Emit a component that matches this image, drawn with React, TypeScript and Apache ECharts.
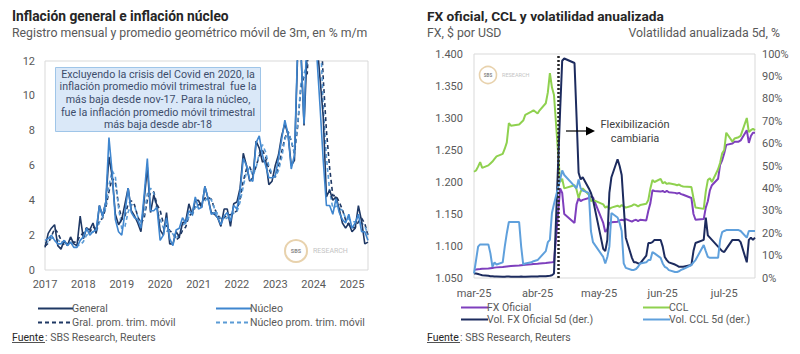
import React, { useEffect, useRef } from "react";
import * as echarts from "echarts";

// ---------- Left chart data (monthly, Jan-2017 .. Jun-2025) ----------
const years = [2017, 2018, 2019, 2020, 2021, 2022, 2023, 2024, 2025];
const general = [
  1.3, 2.1, 2.4, 2.6, 1.4, 1.2, 1.7, 1.4, 1.9, 1.5, 1.4, 3.1,
  1.8, 2.4, 2.3, 2.7, 2.1, 3.7, 3.1, 3.9, 6.5, 5.4, 3.2, 2.6,
  2.9, 3.8, 4.7, 3.4, 3.1, 2.7, 2.2, 4.0, 5.9, 3.3, 4.3, 3.7,
  2.3, 2.0, 3.3, 1.5, 1.5, 2.2, 1.9, 2.7, 2.8, 3.8, 3.2, 4.0,
  4.0, 3.6, 4.8, 4.1, 3.3, 3.2, 3.0, 2.5, 3.5, 3.5, 2.5, 3.8,
  3.9, 4.7, 6.7, 6.0, 5.1, 5.3, 7.4, 7.0, 6.2, 6.3, 4.9, 5.1,
  6.0, 6.6, 7.7, 8.4, 7.8, 6.0, 6.3, 12.4, 12.7, 8.3, 12.8, 25.5,
  20.6, 13.2, 11.0, 8.8, 4.2, 4.6, 4.0, 4.2, 3.5, 2.7, 2.4, 2.7,
  2.2, 2.4, 3.7, 2.8, 1.5, 1.6,
];
const nucleo = [
  1.7, 1.8, 2.0, 1.7, 1.5, 1.5, 1.7, 1.4, 1.6, 1.3, 1.3, 1.7,
  1.9, 2.4, 2.0, 2.2, 2.3, 3.7, 3.1, 3.9, 7.6, 5.6, 2.9, 2.2,
  2.0, 3.3, 4.7, 3.3, 3.0, 2.9, 2.4, 4.3, 6.4, 3.4, 3.4, 3.6,
  1.7, 2.0, 3.0, 1.8, 1.4, 2.3, 2.4, 3.0, 2.7, 3.4, 3.2, 4.2,
  3.5, 3.6, 4.8, 4.1, 3.2, 3.3, 3.0, 2.6, 3.1, 3.3, 2.8, 3.7,
  3.5, 4.5, 6.4, 6.0, 5.2, 5.1, 7.3, 7.7, 6.6, 6.0, 5.3, 5.3,
  5.4, 6.4, 7.5, 8.6, 7.8, 5.8, 6.6, 12.7, 12.7, 8.4, 14.5, 28.3,
  20.2, 12.3, 9.4, 6.3, 3.7, 3.7, 3.2, 4.1, 3.3, 2.9, 2.7, 3.2,
  2.4, 2.7, 3.2, 2.2, 2.2, 1.7,
];
const generalMA = [
  1.37, 1.53, 1.93, 2.37, 2.13, 1.73, 1.43, 1.43, 1.67, 1.6, 1.6, 2.0,
  2.1, 2.43, 2.17, 2.47, 2.37, 2.83, 2.97, 3.57, 4.5, 5.27, 5.03, 3.73,
  2.9, 3.1, 3.8, 3.97, 3.73, 3.07, 2.67, 2.97, 4.03, 4.4, 4.5, 3.77,
  3.43, 2.67, 2.53, 2.27, 2.1, 1.73, 1.87, 2.27, 2.47, 3.1, 3.27, 3.67,
  3.73, 3.87, 4.13, 4.17, 4.07, 3.53, 3.17, 2.9, 3.0, 3.17, 3.17, 3.27,
  3.4, 4.13, 5.1, 5.8, 5.93, 5.47, 5.93, 6.57, 6.87, 6.5, 5.8, 5.43,
  5.33, 5.9, 6.77, 7.57, 7.97, 7.4, 6.7, 8.23, 10.47, 11.13, 11.27, 15.53,
  19.63, 19.77, 14.93, 11.0, 8.0, 5.87, 4.27, 4.27, 3.9, 3.47, 2.87, 2.6,
  2.43, 2.43, 2.77, 2.97, 2.67, 1.97,
];
const nucleoMA = [
  1.53, 1.63, 1.83, 1.83, 1.73, 1.57, 1.57, 1.53, 1.57, 1.43, 1.4, 1.43,
  1.63, 2.0, 2.1, 2.2, 2.17, 2.73, 3.03, 3.57, 4.87, 5.7, 5.37, 3.57,
  2.37, 2.5, 3.33, 3.77, 3.67, 3.07, 2.77, 3.2, 4.37, 4.7, 4.4, 3.47,
  2.9, 2.43, 2.23, 2.27, 2.07, 1.83, 2.03, 2.57, 2.7, 3.03, 3.1, 3.6,
  3.63, 3.77, 3.97, 4.17, 4.03, 3.53, 3.17, 2.97, 2.9, 3.0, 3.07, 3.27,
  3.33, 3.9, 4.8, 5.63, 5.87, 5.43, 5.87, 6.7, 7.2, 6.77, 5.97, 5.53,
  5.33, 5.7, 6.43, 7.5, 7.97, 7.4, 6.73, 8.37, 10.67, 11.27, 11.87, 17.07,
  21.0, 20.27, 13.97, 9.33, 6.47, 4.57, 3.53, 3.67, 3.53, 3.43, 2.97, 2.93,
  2.77, 2.77, 2.77, 2.7, 2.53, 2.03,
];

// ---------- Right chart data (business days, Mar-2025 .. Jul-2025) ----------
const fxDays = [
  "03-03", "03-04", "03-05", "03-06", "03-07", "03-10", "03-11", "03-12", "03-13", "03-14",
  "03-17", "03-18", "03-19", "03-20", "03-21", "03-25", "03-26", "03-27", "03-28", "03-31",
  "04-01", "04-03", "04-04", "04-07", "04-08", "04-09", "04-10", "04-11", "04-14", "04-15",
  "04-16", "04-21", "04-22", "04-23", "04-24", "04-25", "04-28", "04-29", "04-30",
  "05-05", "05-06", "05-07", "05-08", "05-09", "05-12", "05-13", "05-14", "05-15", "05-16",
  "05-19", "05-20", "05-21", "05-22", "05-23", "05-26", "05-27", "05-28", "05-29", "05-30",
  "06-02", "06-03", "06-04", "06-05", "06-06", "06-09", "06-10", "06-11", "06-12", "06-13",
  "06-17", "06-18", "06-19", "06-23", "06-24", "06-25", "06-26", "06-27", "06-30",
  "07-01", "07-02", "07-03", "07-04", "07-07", "07-08", "07-10", "07-11", "07-14", "07-15",
  "07-16", "07-17", "07-18",
];
const fxOficial = [
  1063.0, 1063.3, 1063.7, 1064.0, 1064.4, 1065.0, 1065.4, 1065.8, 1066.2, 1066.6,
  1067.2, 1067.6, 1068.0, 1068.4, 1068.8, 1069.6, 1070.0, 1070.4, 1070.8, 1071.4,
  1071.8, 1072.3, 1072.7, 1073.3, 1073.7, 1074.1, 1074.5, 1075.0, 1190, 1183,
  1150, 1136, 1165, 1175, 1170, 1172, 1175, 1177, 1176,
  1136, 1122, 1126, 1136, 1137, 1138, 1140, 1141, 1140, 1142,
  1138, 1140, 1141, 1139, 1141, 1140, 1155, 1167, 1187, 1186,
  1185, 1186, 1184, 1186, 1184, 1183, 1182, 1183, 1181, 1180,
  1175, 1150, 1141, 1142, 1160, 1170, 1187, 1195, 1205,
  1227, 1234, 1245, 1258, 1260, 1263, 1263, 1265, 1281, 1261,
  1272, 1277, 1277,
];
const ccl = [
  1216, 1218, 1224, 1231, 1222, 1226, 1229, 1232, 1236, 1240,
  1244, 1252, 1262, 1292, 1288, 1290, 1293, 1296, 1305, 1310,
  1312, 1307, 1312, 1323, 1340, 1370, 1348, 1336, 1200, 1205,
  1190, 1195, 1188, 1175, 1185, 1190, 1180, 1170, 1172,
  1165, 1160, 1162, 1158, 1160, 1163, 1161, 1164, 1162, 1160,
  1163, 1165, 1164, 1162, 1164, 1166, 1172, 1190, 1203, 1200,
  1205, 1198, 1200, 1197, 1198, 1196, 1195, 1196, 1194, 1193,
  1192, 1175, 1160, 1158, 1185, 1203, 1206, 1200, 1220,
  1230, 1245, 1250, 1277, 1263, 1268, 1270, 1272, 1300, 1278,
  1281, 1283, 1281,
];
const volFx = [
  2.0, 2.0, 1.8, 1.5, 1.2, 1.0, 0.8, 0.8, 0.7, 0.7,
  0.6, 0.6, 0.7, 0.7, 0.6, 0.6, 0.7, 0.6, 0.6, 0.7,
  0.7, 0.7, 0.8, 0.8, 0.9, 1.0, 1.2, 2.0, 75, 97,
  98, 96, 72, 47, 44, 45, 40, 38, 35,
  13, 12, 17, 38, 45, 53, 50, 46, 32, 18,
  9, 7, 7, 6.5, 6.5, 10, 15.6, 15.6, 16, 17,
  17, 14, 9.4, 8, 7, 6, 5.5, 5, 5, 5,
  5.8, 12, 15.6, 17, 27, 19, 18, 17, 14,
  13, 12, 11.6, 13, 17, 17, 17, 16, 7, 17,
  18, 17, 18,
];
const volCcl = [
  2, 8, 14, 15, 15, 15, 11, 5, 7, 6,
  7, 14, 20, 25, 25, 25, 14, 6, 6.5, 7,
  7.5, 8, 9, 12, 16, 17, 29, 33, 44, 48,
  46, 41, 40, 44, 40, 39, 38, 21, 16,
  9.4, 6.5, 9.4, 14, 29, 27, 24.5, 21, 6.5, 4.5,
  3.6, 3.6, 4, 5, 6.5, 7, 8, 8, 11.6, 11,
  9, 6.5, 5, 4.5, 3.5, 2.7, 2.7, 3, 3.6, 4,
  5.8, 7, 8, 14.7, 12, 9.4, 9, 9, 9,
  17, 20.5, 21, 21.4, 21.4, 21.4, 21.4, 21, 18, 21,
  21, 21, 21,
];
const fxLabelDays = ["2025-03-03", "2025-04-03", "2025-05-03", "2025-06-03", "2025-07-03"];
const monthNames = ["ene", "feb", "mar", "abr", "may", "jun", "jul", "ago", "sep", "oct", "nov", "dic"];
const floatDay = "2025-04-13";

const noteLines = [
  "Excluyendo la crisis del Covid en 2020, la",
  "inflación promedio móvil trimestral  fue la",
  "más baja desde nov-17. Para la núcleo,",
  "fue la inflación promedio móvil trimestral",
  "más baja desde abr-18",
];

const ts = (s: string) => new Date(s + "T00:00:00").getTime();

const FONT = "Roboto";
const GRAY = "#595959";

export default function App() {
  const ref = useRef<HTMLDivElement>(null);

  useEffect(() => {
    document.body.style.margin = "0";
    if (!ref.current) return;
    const chart = echarts.init(ref.current, null, { renderer: "svg" });

    const monthCats: string[] = [];
    years.forEach((y) => {
      for (let m = 1; m <= 12; m++) monthCats.push(`${y}-${String(m).padStart(2, "0")}`);
    });
    const cats = monthCats.slice(0, general.length);
    const fxDates = fxDays.map((d) => ts("2025-" + d));
    const pair = (arr: number[]) => fxDates.map((d, i) => [d, arr[i]]);

    const axisText = { color: GRAY, fontSize: 11, fontFamily: FONT };
    const hidden = { show: false };

    const leftLine = (name: string, data: number[], color: string, dashed: boolean, z: number) => ({
      name,
      type: "line",
      xAxisIndex: 0,
      yAxisIndex: 0,
      data,
      symbol: "none",
      z,
      lineStyle: { color, width: 1.6, type: dashed ? [4, 3] : "solid" },
      itemStyle: { color },
    });
    const rightLine = (name: string, data: number[], color: string, yi: number, z: number) => ({
      name,
      type: "line",
      xAxisIndex: 1,
      yAxisIndex: yi,
      data: pair(data),
      symbol: "none",
      z,
      lineStyle: { color, width: 2 },
      itemStyle: { color },
    });

    const legendText = { fontSize: 10.5, color: GRAY, fontFamily: FONT, padding: [0, 0, 0, -6] };
    const legendBase = {
      orient: "vertical",
      itemHeight: 10,
      itemStyle: { opacity: 0 },
      textStyle: legendText,
    };

    const option: any = {
      animation: false,
      textStyle: { fontFamily: FONT },
      grid: [
        { left: 45, top: 61, width: 323, height: 209, show: true, borderColor: "#d9d9d9", borderWidth: 1 },
        { left: 474, top: 54, width: 281, height: 224, show: true, borderColor: "#d9d9d9", borderWidth: 1 },
      ],
      xAxis: [
        {
          type: "category",
          gridIndex: 0,
          data: cats,
          boundaryGap: false,
          axisLine: hidden,
          axisTick: hidden,
          splitLine: hidden,
          axisLabel: {
            ...axisText,
            margin: 9,
            interval: (_i: number, v: string) => v.endsWith("-01"),
            formatter: (v: string) => v.slice(0, 4),
          },
        },
        {
          type: "value",
          gridIndex: 1,
          min: fxDates[0],
          max: fxDates[fxDates.length - 1],
          axisLine: hidden,
          axisTick: hidden,
          splitLine: hidden,
          axisLabel: {
            ...axisText,
            margin: 10,
            customValues: fxLabelDays.map(ts),
            formatter: (v: number) => {
              const d = new Date(v);
              return monthNames[d.getMonth()] + "-" + String(d.getFullYear()).slice(2);
            },
          },
        },
      ],
      yAxis: [
        {
          type: "value",
          gridIndex: 0,
          min: 0,
          max: 12,
          interval: 2,
          axisLine: hidden,
          axisTick: hidden,
          splitLine: hidden,
          axisLabel: { ...axisText, margin: 10 },
        },
        {
          type: "value",
          gridIndex: 1,
          min: 1050,
          max: 1400,
          interval: 50,
          axisLine: hidden,
          axisTick: hidden,
          splitLine: hidden,
          axisLabel: { ...axisText, margin: 11, formatter: (v: number) => (v / 1000).toFixed(3) },
        },
        {
          type: "value",
          gridIndex: 1,
          position: "right",
          min: 0,
          max: 100,
          interval: 10,
          axisLine: hidden,
          axisTick: hidden,
          splitLine: hidden,
          axisLabel: { ...axisText, margin: 7, formatter: "{value}%" },
        },
      ],
      legend: [
        { ...legendBase, left: 32, top: 298, itemWidth: 35, itemGap: 3, data: ["General", "Gral. prom. trim. móvil"] },
        { ...legendBase, left: 210, top: 298, itemWidth: 35, itemGap: 3, data: ["Núcleo", "Núcleo prom. trim. móvil"] },
        { ...legendBase, left: 455, top: 297, itemWidth: 27, itemGap: 1, data: ["FX Oficial", "Vol. FX Oficial 5d (der.)"] },
        { ...legendBase, left: 637, top: 297, itemWidth: 27, itemGap: 1, data: ["CCL", "Vol. CCL 5d (der.)"] },
      ],
      series: [
        leftLine("Gral. prom. trim. móvil", generalMA, "#1f3864", true, 2),
        leftLine("Núcleo prom. trim. móvil", nucleoMA, "#5b9bd5", true, 2),
        leftLine("General", general, "#1f3864", false, 3),
        leftLine("Núcleo", nucleo, "#3f86cf", false, 3),
        rightLine("FX Oficial", fxOficial, "#7e3fbd", 1, 3),
        {
          ...rightLine("CCL", ccl, "#8fd14f", 1, 3),
          markLine: {
            silent: true,
            symbol: "none",
            label: { show: false },
            lineStyle: { color: "#262626", type: [2, 2], width: 2.5 },
            data: [{ xAxis: ts(floatDay) }],
          },
        },
        rightLine("Vol. FX Oficial 5d (der.)", volFx, "#1c2b5e", 2, 4),
        rightLine("Vol. CCL 5d (der.)", volCcl, "#5fa0dc", 2, 4),
      ],
      graphic: [
        { type: "text", left: 12, top: 9, style: { text: "Inflación general e inflación núcleo", fontSize: 13.8, fontWeight: "bold", fill: "#262626", fontFamily: FONT } },
        { type: "text", left: 12, top: 27, style: { text: "Registro mensual y promedio geométrico móvil de 3m, en % m/m", fontSize: 12.3, fill: GRAY, fontFamily: FONT } },
        { type: "text", left: 427, top: 9, style: { text: "FX oficial, CCL y volatilidad anualizada", fontSize: 13.7, fontWeight: "bold", fill: "#262626", fontFamily: FONT } },
        { type: "text", left: 427, top: 27, style: { text: "FX, $ por USD", fontSize: 12.3, fill: GRAY, fontFamily: FONT } },
        { type: "text", right: 20, top: 27, style: { text: "Volatilidad anualizada 5d, %", fontSize: 12.3, fill: GRAY, fontFamily: FONT } },
        { type: "rect", shape: { x: 55.5, y: 67.5, width: 205, height: 64 }, style: { fill: "#dae8f8", stroke: "#9fc5e8", lineWidth: 1 }, z: 10 },
        {
          type: "text", x: 158, y: 99.5, z: 11,
          style: { text: noteLines.join("\n"), fontSize: 10.7, lineHeight: 12.6, fill: "#3d4d6b", align: "center", verticalAlign: "middle", fontFamily: FONT },
        },
        { type: "circle", shape: { cx: 296, cy: 251, r: 11 }, style: { fill: "none", stroke: "#e8d2ad", lineWidth: 2 }, z: 1 },
        { type: "text", x: 296, y: 251, style: { text: "SBS", fontSize: 5.5, fontWeight: "bold", fill: "#8a8a8a", align: "center", verticalAlign: "middle", fontFamily: FONT }, z: 1 },
        { type: "text", x: 313, y: 251, style: { text: "RESEARCH", fontSize: 7, fill: "#c4c4c4", verticalAlign: "middle", fontFamily: FONT }, z: 1 },
        { type: "circle", shape: { cx: 488, cy: 75, r: 8.5 }, style: { fill: "none", stroke: "#e8d2ad", lineWidth: 1.6 }, z: 1 },
        { type: "text", x: 488, y: 75, style: { text: "SBS", fontSize: 4.5, fontWeight: "bold", fill: "#8a8a8a", align: "center", verticalAlign: "middle", fontFamily: FONT }, z: 1 },
        { type: "text", x: 502, y: 75, style: { text: "RESEARCH", fontSize: 5.5, fill: "#c4c4c4", verticalAlign: "middle", fontFamily: FONT }, z: 1 },
        { type: "line", shape: { x1: 566, y1: 131, x2: 588, y2: 131 }, style: { stroke: "#000", lineWidth: 1.2 }, z: 10 },
        { type: "polygon", shape: { points: [[586, 126.5], [595, 131], [586, 135.5]] }, style: { fill: "#000" }, z: 10 },
        {
          type: "text", x: 635, y: 131, z: 10,
          style: { text: "Flexibilización\ncambiaria", fontSize: 11, lineHeight: 14, fill: "#404040", align: "center", verticalAlign: "middle", fontFamily: FONT },
        },
        { type: "text", x: 12, y: 337, style: { text: "Fuente", fontSize: 10.5, fill: "#262626", verticalAlign: "middle", fontFamily: FONT } },
        { type: "line", shape: { x1: 12, y1: 342.5, x2: 45, y2: 342.5 }, style: { stroke: "#262626", lineWidth: 0.8 } },
        { type: "text", x: 45, y: 337, style: { text: ": SBS Research, Reuters", fontSize: 10.5, fill: GRAY, verticalAlign: "middle", fontFamily: FONT } },
        { type: "text", x: 427, y: 337, style: { text: "Fuente", fontSize: 10.5, fill: "#262626", verticalAlign: "middle", fontFamily: FONT } },
        { type: "line", shape: { x1: 427, y1: 342.5, x2: 460, y2: 342.5 }, style: { stroke: "#262626", lineWidth: 0.8 } },
        { type: "text", x: 460, y: 337, style: { text: ": SBS Research, Reuters", fontSize: 10.5, fill: GRAY, verticalAlign: "middle", fontFamily: FONT } },
      ],
    };

    chart.setOption(option);
    return () => chart.dispose();
  }, []);

  return <div ref={ref} style={{ width: 800, height: 354 }} />;
}
